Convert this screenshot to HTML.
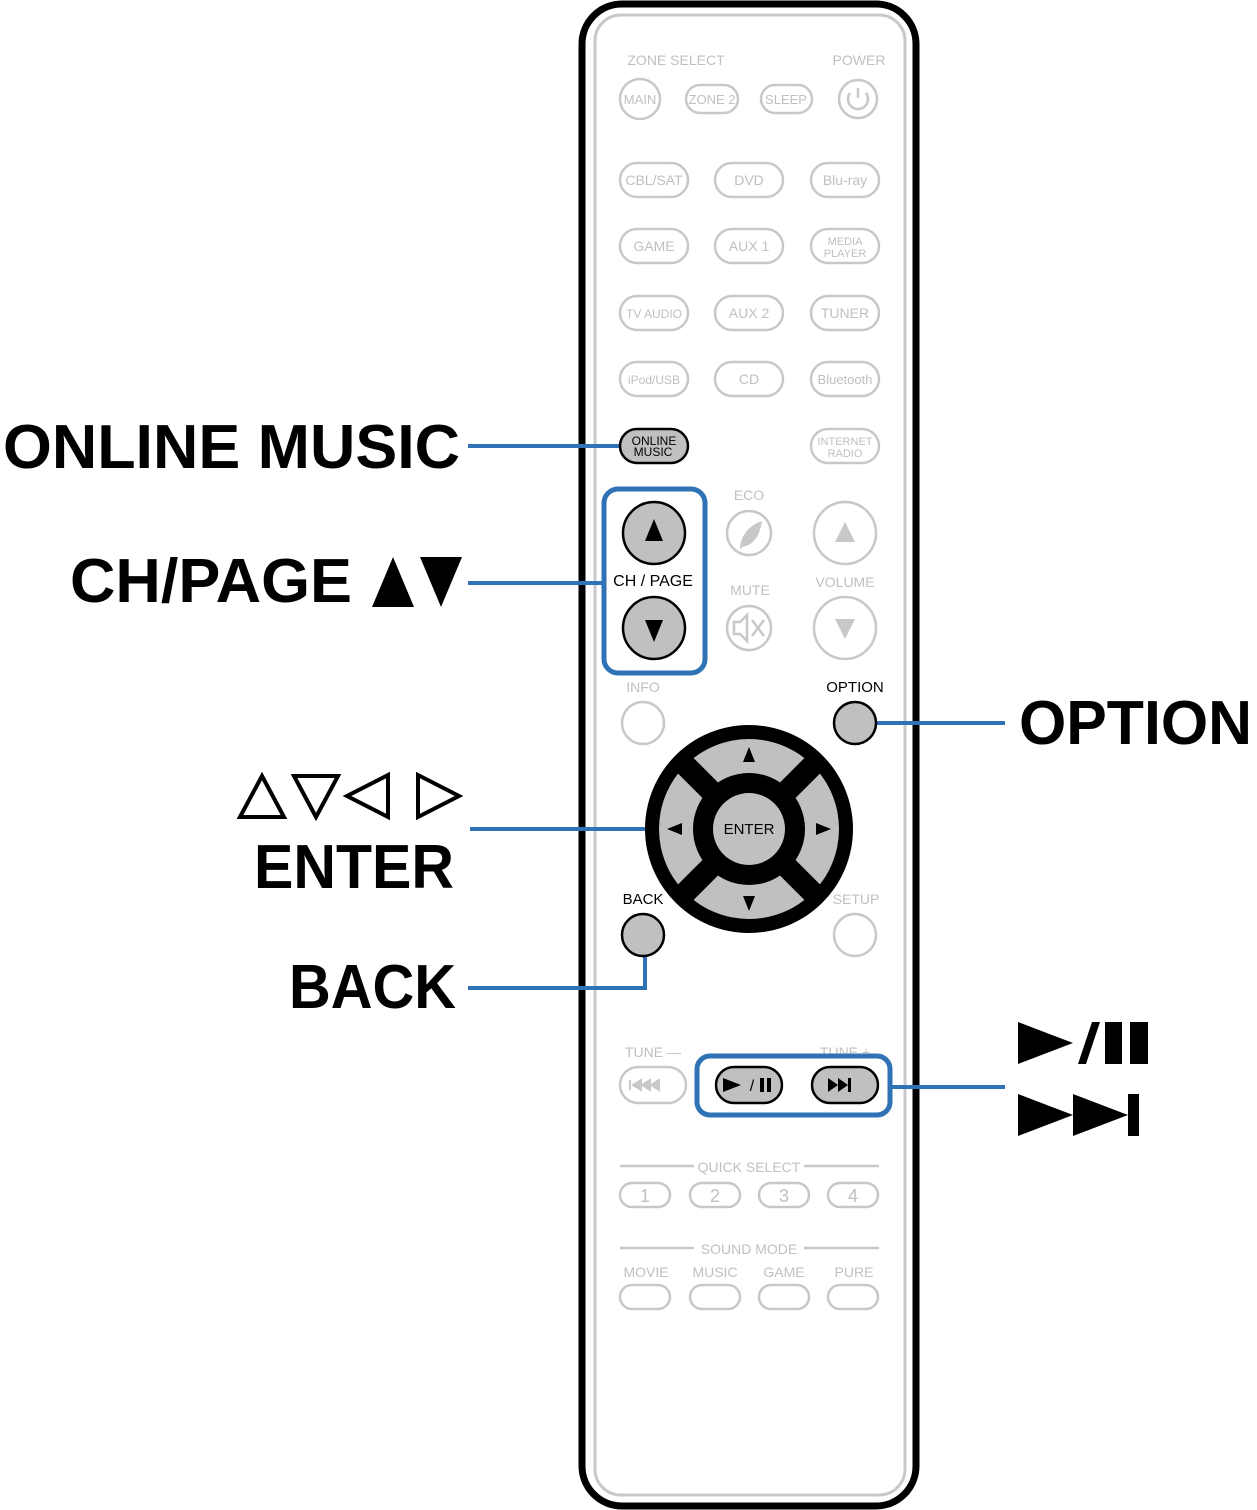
<!DOCTYPE html>
<html><head><style>body{margin:0;background:#fff}svg{display:block}</style></head><body>
<svg width="1257" height="1510" viewBox="0 0 1257 1510" xmlns="http://www.w3.org/2000/svg" font-family="Liberation Sans, sans-serif">
<rect x="582" y="4" width="334" height="1502" rx="40" fill="#fff" stroke="#000" stroke-width="7"/>
<rect x="595" y="15" width="310" height="1480" rx="26" fill="none" stroke="#c8c8c8" stroke-width="3"/>
<g fill="none" stroke="#c8c8c8" stroke-width="2.5">
<circle cx="640" cy="99" r="20"/><rect x="686" y="85" width="52" height="28" rx="14"/><rect x="761" y="85" width="51" height="28" rx="14"/><circle cx="858" cy="99" r="19"/>
<rect x="620" y="163" width="68" height="34" rx="17"/><rect x="715" y="163" width="68" height="34" rx="17"/><rect x="811" y="163" width="68" height="34" rx="17"/>
<rect x="620" y="229" width="68" height="34" rx="17"/><rect x="715" y="229" width="68" height="34" rx="17"/><rect x="811" y="229" width="68" height="34" rx="17"/>
<rect x="620" y="296" width="68" height="34" rx="17"/><rect x="715" y="296" width="68" height="34" rx="17"/><rect x="811" y="296" width="68" height="34" rx="17"/>
<rect x="620" y="362" width="68" height="34" rx="17"/><rect x="715" y="362" width="68" height="34" rx="17"/><rect x="811" y="362" width="68" height="34" rx="17"/>
<rect x="811" y="429" width="68" height="34" rx="17"/>
<circle cx="749" cy="533" r="22"/><circle cx="749" cy="628" r="22"/><circle cx="845" cy="533" r="31"/><circle cx="845" cy="628" r="31"/>
<circle cx="643" cy="723" r="21"/><circle cx="855" cy="935" r="21"/>
<rect x="620" y="1067" width="66" height="36" rx="18"/>
<rect x="620" y="1183" width="50" height="24" rx="12"/><rect x="690" y="1183" width="50" height="24" rx="12"/><rect x="759" y="1183" width="50" height="24" rx="12"/><rect x="828" y="1183" width="50" height="24" rx="12"/>
<rect x="620" y="1285" width="50" height="24" rx="12"/><rect x="690" y="1285" width="50" height="24" rx="12"/><rect x="759" y="1285" width="50" height="24" rx="12"/><rect x="828" y="1285" width="50" height="24" rx="12"/>
<line x1="620" y1="1166" x2="694" y2="1166"/><line x1="804" y1="1166" x2="879" y2="1166"/>
<line x1="620" y1="1248" x2="694" y2="1248"/><line x1="804" y1="1248" x2="879" y2="1248"/>
<path d="M858 88v10M850 93a10 10 0 1 0 16 0"/>
<path d="M734 622h6l7-7v26l-7-7h-6z M752 620l12 16M764 620l-12 16"/>
</g>
<path d="M740 550c0-15 10-25 22-29c-2 14-8 24-20 26z" fill="#c8c8c8"/>
<path d="M835 542l10-20l10 20z M835 619l10 20l10-20z" fill="#c8c8c8"/>
<path d="M630 1080v10M633 1085l8-5v10zM642 1085l8-5v10zM651 1085l8-5v10z" fill="#c8c8c8" stroke="#c8c8c8" stroke-width="2"/>
<g fill="#c0c0c0" font-size="14" text-anchor="middle">
<text x="676" y="65">ZONE SELECT</text><text x="859" y="65">POWER</text>
<text x="640" y="104" font-size="13">MAIN</text><text x="712" y="104" font-size="13">ZONE 2</text><text x="786" y="104" font-size="13">SLEEP</text>
<text x="654" y="185">CBL/SAT</text><text x="749" y="185">DVD</text><text x="845" y="185">Blu-ray</text>
<text x="654" y="251">GAME</text><text x="749" y="251">AUX 1</text><text x="845" y="245" font-size="11">MEDIA</text><text x="845" y="257" font-size="11">PLAYER</text>
<text x="654" y="318" font-size="12">TV AUDIO</text><text x="749" y="318">AUX 2</text><text x="845" y="318">TUNER</text>
<text x="654" y="384" font-size="12">iPod/USB</text><text x="749" y="384">CD</text><text x="845" y="384" font-size="13">Bluetooth</text>
<text x="845" y="445" font-size="11">INTERNET</text><text x="845" y="457" font-size="11">RADIO</text>
<text x="749" y="500">ECO</text><text x="750" y="595">MUTE</text><text x="845" y="587">VOLUME</text>
<text x="643" y="692">INFO</text><text x="856" y="904">SETUP</text>
<text x="653" y="1057">TUNE —</text><text x="845" y="1057">TUNE +</text>
<text x="749" y="1172">QUICK SELECT</text><text x="749" y="1254">SOUND MODE</text>
<text x="645" y="1202" font-size="18">1</text><text x="715" y="1202" font-size="18">2</text><text x="784" y="1202" font-size="18">3</text><text x="853" y="1202" font-size="18">4</text>
<text x="646" y="1277">MOVIE</text><text x="715" y="1277">MUSIC</text><text x="784" y="1277">GAME</text><text x="854" y="1277">PURE</text>
</g>
<g stroke="#2f72b5" stroke-width="4" fill="none">
<line x1="468" y1="446" x2="622" y2="446"/><line x1="468" y1="583" x2="604" y2="583"/><line x1="470" y1="829" x2="648" y2="829"/>
<path d="M468 988h177v-32"/><line x1="876" y1="723" x2="1005" y2="723"/><line x1="890" y1="1087" x2="1005" y2="1087"/>
<rect x="604" y="489" width="101" height="184" rx="14" stroke-width="5"/><rect x="697" y="1056" width="193" height="59" rx="13" stroke-width="5"/>
</g>
<g stroke="#000" stroke-width="2.5" fill="#c0c0c0">
<rect x="620" y="429" width="68" height="34" rx="17"/>
<circle cx="654" cy="533" r="31"/><circle cx="654" cy="628" r="31"/>
<circle cx="855" cy="723" r="21"/><circle cx="643" cy="935" r="21"/>
<rect x="716" y="1067" width="66" height="36" rx="18"/><rect x="812" y="1067" width="66" height="36" rx="18"/>
</g>
<circle cx="749" cy="829" r="104" fill="#000"/>
<circle cx="749" cy="829" r="90" fill="#c0c0c0"/>
<g stroke="#000" stroke-width="22"><line x1="680" y1="760" x2="818" y2="898"/><line x1="818" y1="760" x2="680" y2="898"/></g>
<circle cx="749" cy="829" r="56" fill="#000"/><circle cx="749" cy="829" r="36" fill="#c0c0c0"/>
<g fill="#000">
<path d="M743 762l6-15l6 15z M743 896l6 15l6-15z M682 823l-15 6l15 6z M816 823l15 6l-15 6z"/>
<path d="M645 541l9-22l9 22z M645 620l9 22l9-22z"/>
<path d="M723 1078l18 7l-18 7z M828 1078l10 7l-10 7z M838 1078l10 7l-10 7z"/><rect x="848" y="1078" width="3" height="14"/>
<rect x="760" y="1078" width="4" height="14"/><rect x="767" y="1078" width="4" height="14"/>
<text x="749" y="834" font-size="15" text-anchor="middle">ENTER</text>
<text x="653" y="586" font-size="16" text-anchor="middle">CH / PAGE</text>
<text x="855" y="692" font-size="15" text-anchor="middle">OPTION</text>
<text x="643" y="904" font-size="15" text-anchor="middle">BACK</text>
<text x="654" y="445" font-size="12" text-anchor="middle">ONLINE</text><text x="653" y="456" font-size="12" text-anchor="middle">MUSIC</text>
<text x="752" y="1091" font-size="16" text-anchor="middle">/</text>
</g>
<g font-weight="bold" fill="#000" font-size="62">
<text x="3" y="468" textLength="457" lengthAdjust="spacingAndGlyphs">ONLINE MUSIC</text>
<text x="70" y="602" textLength="282" lengthAdjust="spacingAndGlyphs">CH/PAGE</text>
<path d="M372 607l21-50l21 50z M420 557l21 50l21-50z"/>
<text x="254" y="888" textLength="200" lengthAdjust="spacingAndGlyphs">ENTER</text>
<text x="289" y="1008" textLength="167" lengthAdjust="spacingAndGlyphs">BACK</text>
<text x="1019" y="744" textLength="233" lengthAdjust="spacingAndGlyphs">OPTION</text>
<path d="M1018 1022l55 21l-55 21z M1092 1022h8l-14 42h-8z"/><rect x="1105" y="1022" width="17" height="42"/><rect x="1130" y="1022" width="18" height="42"/>
<path d="M1018 1094l55 21l-55 21z M1073 1094l55 21l-55 21z"/><rect x="1128" y="1094" width="11" height="42"/>
</g>
<g fill="none" stroke="#000" stroke-width="4">
<path d="M240 817l22-41l22 41z M294 776l22 41l22-41z M388 775l-41 21l41 21z M418 775l41 21l-41 21z"/>
</g>
</svg>
</body></html>
